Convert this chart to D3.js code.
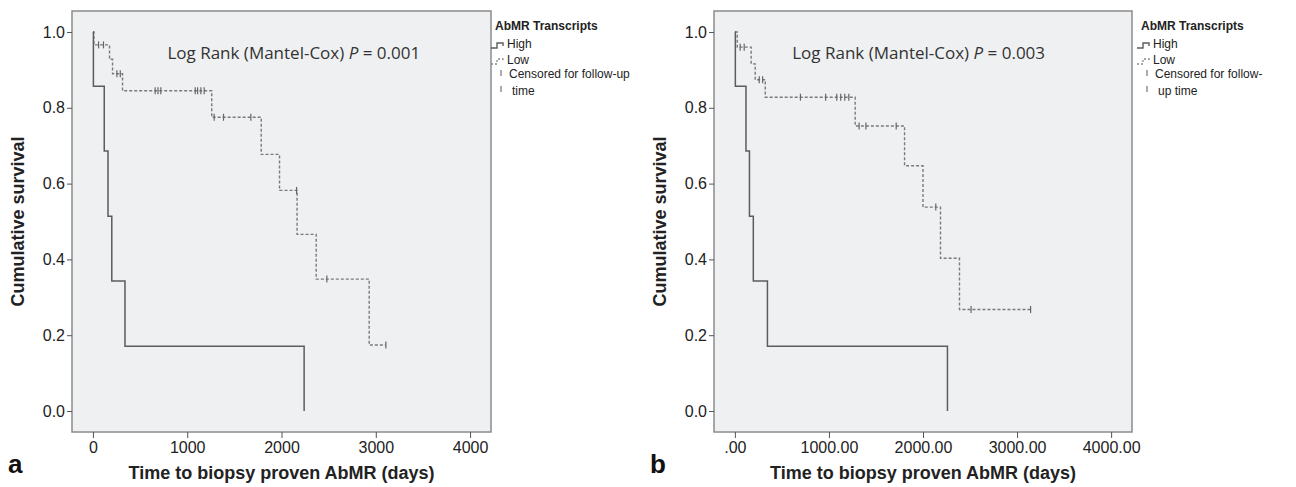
<!DOCTYPE html>
<html>
<head>
<meta charset="utf-8">
<script src="https://cdn.jsdelivr.net/npm/d3@7"></script>
<style>
  body { margin: 0; background: #fff; }
  svg { display: block; font-family: "Liberation Sans", Arial, sans-serif; }
</style>
</head>
<body>
<svg id="chart" width="1296" height="487"></svg>
<script>
// Panel a: step times (days) and survival after each step
const highTimesA = [0, 5, 120, 160, 200, 340, 2240];
const highSurvA = [1, 0.857, 0.686, 0.514, 0.343, 0.171, 0];
const lowTimesA = [0, 10, 176, 208, 314, 1260, 1785, 1979, 2165, 2368, 2930];
const lowSurvA = [1, 0.966, 0.928, 0.89, 0.845, 0.775, 0.677, 0.582, 0.466, 0.348, 0.174];
const lowCensorA = [60, 112, 254, 290, 660, 690, 720, 1085, 1110, 1145, 1180, 1286, 1385, 1675, 2160, 2481, 3107];

// Panel b
const highTimesB = [0, 5, 118, 155, 196, 346, 2260];
const highSurvB = [1, 0.857, 0.686, 0.514, 0.343, 0.171, 0];
const lowTimesB = [0, 25, 173, 216, 323, 1279, 1804, 2000, 2186, 2388];
const lowSurvB = [1, 0.96, 0.916, 0.874, 0.828, 0.752, 0.647, 0.538, 0.403, 0.268];
const lowCensorB = [56, 99, 259, 295, 697, 965, 1083, 1125, 1168, 1211, 1321, 1393, 1715, 2136, 2511, 3144];

const yTicks = [0, 0.2, 0.4, 0.6, 0.8, 1.0];
const xTicks = [0, 1000, 2000, 3000, 4000];

const svg = d3.select("#chart");

const drawPanel = (opt) => {
  const { left, right, top, bottom, letter, pText, pX, xFmt, legendX, legendLines,
          highT, highS, lowT, lowS, lowC } = opt;

  const x = d3.scaleLinear().domain([-222, 4222]).range([left, right]);
  const y = d3.scaleLinear().domain([-0.0554, 1.0554]).range([bottom, top]);

  // plot box
  svg.append("rect")
    .attr("x", left).attr("y", top)
    .attr("width", right - left).attr("height", bottom - top)
    .attr("fill", "#eff0f2")
    .attr("stroke", "#8c8c8c")
    .attr("stroke-width", 1.5);

  // y axis
  const gy = svg.append("g")
    .attr("transform", `translate(${left},0)`)
    .call(d3.axisLeft(y).tickValues(yTicks).tickFormat(d3.format(".1f")).tickSize(5).tickPadding(2));
  gy.select(".domain").remove();
  gy.selectAll("line").attr("stroke", "#555");
  gy.selectAll("text").attr("fill", "#222").style("font-size", "16px").style("font-family", "Liberation Sans, Arial, sans-serif");

  // x axis
  const gx = svg.append("g")
    .attr("transform", `translate(0,${bottom})`)
    .call(d3.axisBottom(x).tickValues(xTicks).tickFormat(xFmt).tickSize(6).tickPadding(4));
  gx.select(".domain").remove();
  gx.selectAll("line").attr("stroke", "#555");
  gx.selectAll("text").attr("fill", "#222").style("font-size", "16px").style("font-family", "Liberation Sans, Arial, sans-serif");

  // axis titles
  svg.append("text")
    .attr("x", (left + right) / 2).attr("y", 479)
    .attr("text-anchor", "middle")
    .attr("fill", "#222")
    .style("font-size", "18px").style("font-weight", "bold")
    .text("Time to biopsy proven AbMR (days)");

  svg.append("text")
    .attr("transform", `translate(${left - 48},${(top + bottom) / 2}) rotate(-90)`)
    .attr("text-anchor", "middle")
    .attr("fill", "#222")
    .style("font-size", "18px").style("font-weight", "bold")
    .text("Cumulative survival");

  // panel letter
  svg.append("text")
    .attr("x", left - 64).attr("y", 473)
    .attr("fill", "#111")
    .style("font-size", "26px").style("font-weight", "bold")
    .text(letter);

  // log rank annotation
  const t = svg.append("text")
    .attr("x", x(pX)).attr("y", 59)
    .attr("fill", "#333")
    .style("font-family", "Open Sans, sans-serif")
    .style("font-size", "17px");
  t.append("tspan").text("Log Rank (Mantel-Cox) ");
  t.append("tspan").style("font-style", "italic").text("P");
  t.append("tspan").text(" = " + pText);

  // curves
  const line = d3.line().x(d => x(d[0])).y(d => y(d[1])).curve(d3.curveStepAfter);
  const highPts = highT.map((v, i) => [v, highS[i]]);
  const lowEnd = d3.max(lowC);
  const lowPts = lowT.map((v, i) => [v, lowS[i]]).concat([[lowEnd, lowS[lowS.length - 1]]]);

  svg.append("path")
    .attr("d", line(lowPts))
    .attr("fill", "none")
    .attr("stroke", "#7a7a7a")
    .attr("stroke-width", 1.4)
    .attr("stroke-dasharray", "3,2");

  svg.append("path")
    .attr("d", line(highPts))
    .attr("fill", "none")
    .attr("stroke", "#5c5c5c")
    .attr("stroke-width", 1.5);

  const survAt = (tm) => {
    let s = lowS[0];
    lowT.forEach((v, i) => { if (v <= tm) s = lowS[i]; });
    return s;
  };

  svg.append("g").selectAll("line")
    .data(lowC)
    .join("line")
    .attr("x1", d => x(d)).attr("x2", d => x(d))
    .attr("y1", d => y(survAt(d)) - 3.5)
    .attr("y2", d => y(survAt(d)) + 3.5)
    .attr("stroke", "#666")
    .attr("stroke-width", 1.2);

  // legend
  const lg = svg.append("g").attr("transform", `translate(${legendX},0)`);
  lg.append("text")
    .attr("x", 4).attr("y", 30)
    .attr("fill", "#222")
    .style("font-size", "12px").style("font-weight", "bold")
    .text("AbMR Transcripts");

  const sym = "M0,48 H6 V43 H12 V46";
  lg.append("path").attr("d", sym)
    .attr("fill", "none").attr("stroke", "#5c5c5c").attr("stroke-width", 1.4);
  lg.append("path").attr("d", sym).attr("transform", "translate(0,16)")
    .attr("fill", "none").attr("stroke", "#888").attr("stroke-width", 1.3)
    .attr("stroke-dasharray", "2,2");
  lg.append("line")
    .attr("x1", 10).attr("x2", 10).attr("y1", 70).attr("y2", 98)
    .attr("stroke", "#888").attr("stroke-width", 1.4)
    .attr("stroke-dasharray", "6,10");

  lg.append("text").attr("x", 16).attr("y", 48)
    .attr("fill", "#222").style("font-size", "12px").text("High");
  lg.append("text").attr("x", 16).attr("y", 64)
    .attr("fill", "#222").style("font-size", "12px").text("Low");
  legendLines.forEach((s, i) => {
    lg.append("text").attr("x", 18 + i * 3).attr("y", 78 + i * 17)
      .attr("fill", "#222").style("font-size", "12px").text(s);
  });
};

drawPanel({
  left: 72, right: 491, top: 11, bottom: 432,
  letter: "a", pText: "0.001", pX: 790,
  xFmt: d3.format("d"),
  legendX: 491,
  legendLines: ["Censored for follow-up", "time"],
  highT: highTimesA, highS: highSurvA,
  lowT: lowTimesA, lowS: lowSurvA, lowC: lowCensorA
});

drawPanel({
  left: 714, right: 1132, top: 11, bottom: 432,
  letter: "b", pText: "0.003", pX: 610,
  xFmt: d => d === 0 ? ".00" : d3.format(".2f")(d),
  legendX: 1137,
  legendLines: ["Censored for follow-", "up time"],
  highT: highTimesB, highS: highSurvB,
  lowT: lowTimesB, lowS: lowSurvB, lowC: lowCensorB
});
</script>
</body>
</html>
